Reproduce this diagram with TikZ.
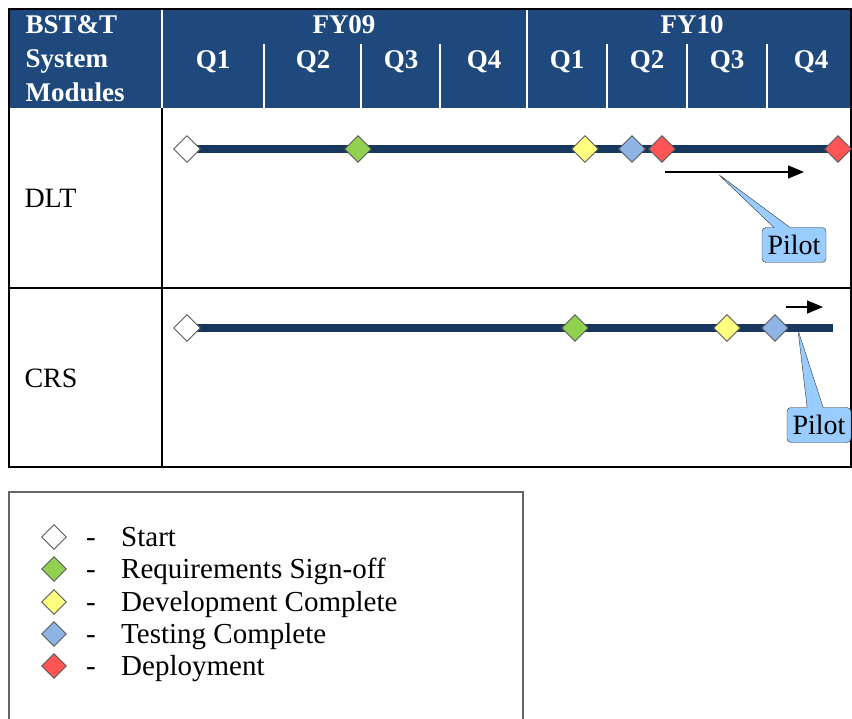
\documentclass[tikz,border=0pt]{standalone}
\usepackage{fontspec}
\setmainfont{Liberation Serif}
\usetikzlibrary{arrows.meta, shapes.geometric, shapes.callouts, backgrounds}
\definecolor{hdrblue}{RGB}{31,73,125}
\definecolor{barnavy}{RGB}{23,55,94}
\definecolor{msgreen}{RGB}{146,208,80}
\definecolor{msyellow}{RGB}{255,255,128}
\definecolor{msblue}{RGB}{142,180,227}
\definecolor{msred}{RGB}{255,85,85}
\definecolor{pilotblue}{RGB}{153,204,255}

\begin{document}
\begin{tikzpicture}[x=1pt, y=-1pt,
				hdrtext/.style = {text=white, font=\fontsize{27}{34}\selectfont\bfseries},
				bodytext/.style = {text=black, font=\fontsize{28}{32}\selectfont},
				keytext/.style = {text=black, font=\fontsize{29}{32}\selectfont, inner sep=0pt, anchor=base west},
				hdrline/.style = {draw=white, line width=2pt},
				gridline/.style = {draw=black, line width=2pt},
				milestone/.style = {diamond, draw=black!65, line width=0.9pt, minimum width=27pt, minimum height=27pt, inner sep=0pt},
				start/.style = {milestone, fill=white},
				signoff/.style = {milestone, fill=msgreen},
				devdone/.style = {milestone, fill=msyellow},
				testdone/.style = {milestone, fill=msblue},
				deploy/.style = {milestone, fill=msred},
				timebar/.style = {draw=barnavy, line width=8pt},
				pilotarrow/.style = {draw=black, line width=1.5pt, -{Triangle[length=16pt, width=13pt]}},
				pilotcall/.style = {rectangle callout, draw=black!80, fill=pilotblue, rounded corners=4pt,
					callout pointer width=16pt, bodytext, inner sep=2pt, minimum width=64pt, minimum height=35pt}
				]
				\useasboundingbox (0,0) rectangle (852,719);
				
				% header
				\fill[hdrblue] (9,9) rectangle (851,108);
				\draw[hdrline] (162,10) -- (162,108);
				\draw[hdrline] (527,10) -- (527,108);
				\foreach \qx in {264, 361, 440, 607, 687, 767}
					\draw[hdrline] (\qx,44) -- (\qx,108);
				\node[hdrtext, align=left, anchor=west] (modules) at (22,59) {BST\&T\\System\\Modules};
				\node[hdrtext] (fy09) at (344,25) {FY09};
				\node[hdrtext] (fy10) at (692,25) {FY10};
				\foreach \qx/\ql [count=\qi] in {213/Q1, 313/Q2, 401/Q3, 484/Q4, 567/Q1, 647/Q2, 727/Q3, 811/Q4}
					\node[hdrtext] (q\qi) at (\qx,62) {\ql};
				
				% table grid
				\draw[gridline] (9,9) rectangle (851,467);
				\draw[gridline] (9,288) -- (851,288);
				\draw[gridline] (162,108) -- (162,467);
				\node[bodytext, anchor=west] (dlt) at (21,198) {DLT};
				\node[bodytext, anchor=west] (crs) at (21,378) {CRS};
				
				% DLT row
				\node[start] (dltstart) at (187,149) {};
				\node[signoff] (dltsign) at (358,149) {};
				\node[devdone] (dltdev) at (585,149) {};
				\node[testdone] (dlttest) at (632,149) {};
				\node[deploy] (dltdep) at (662,149) {};
				\node[deploy] (dltfinal) at (838,149) {};
				\begin{scope}[on background layer]
					\draw[timebar] (dltstart.center) -- (dltfinal.center);
				\end{scope}
				\coordinate (dltfrom) at (665,172);
				\coordinate (dltto) at (804,172);
				\draw[pilotarrow] (dltfrom) -- (dltto);
				\coordinate (dlttip) at (718,174);
				\node[pilotcall, callout absolute pointer={(dlttip)}] (dltpilot) at (794,245) {Pilot};
				
				% CRS row
				\node[start] (crsstart) at (187,328) {};
				\node[signoff] (crssign) at (575,328) {};
				\node[devdone] (crsdev) at (727,328) {};
				\node[testdone] (crstest) at (775,328) {};
				\coordinate (crsend) at (833,328);
				\begin{scope}[on background layer]
					\draw[timebar] (crsstart.center) -- (crsend);
				\end{scope}
				\coordinate (crsfrom) at (786,307);
				\coordinate (crsto) at (823,307);
				\draw[pilotarrow] (crsfrom) -- (crsto);
				\coordinate (crstip) at (798,330);
				\node[pilotcall, callout absolute pointer={(crstip)}] (crspilot) at (819,425) {Pilot};
				
				% legend
				\draw[draw=black!60, line width=1.5pt] (9,492) rectangle (523,730);
				\foreach \ly/\lstyle/\ltext [count=\li] in {537/start/Start, 569/signoff/Requirements Sign-off,
					602/devdone/Development Complete, 634/testdone/Testing Complete, 666/deploy/Deployment}
				{
					\node[\lstyle, minimum width=25pt, minimum height=25pt] (key\li) at (54,\ly) {};
					\node[keytext] (dash\li) at (86,\ly+9) {-};
					\node[keytext] (text\li) at (121,\ly+9) {\ltext};
				}
\end{tikzpicture}
\end{document}
